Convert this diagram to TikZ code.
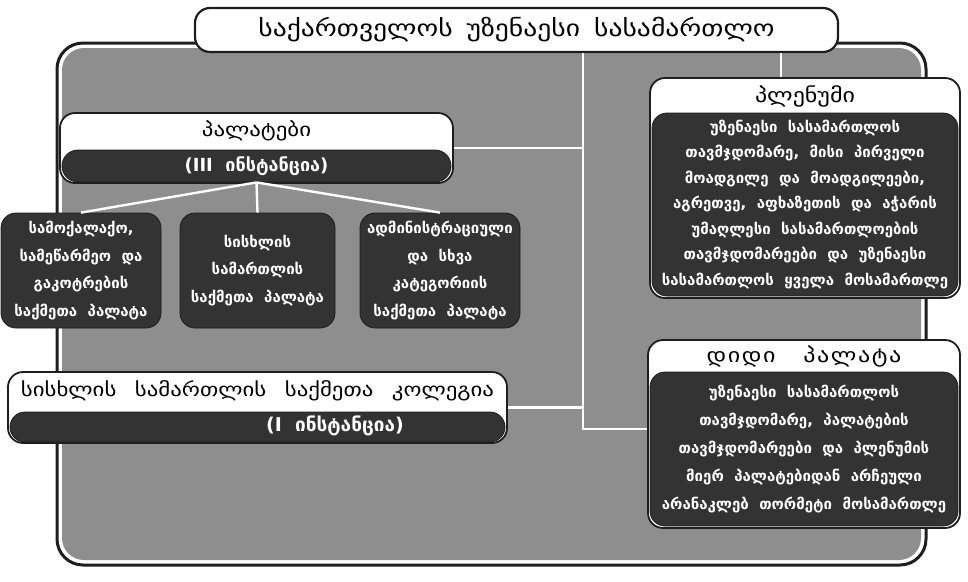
\documentclass[tikz,border=0pt]{standalone}
\usepackage{fontspec}
\setmainfont{DejaVu Sans}
\newfontfamily\geo[WordSpace=2]{DejaVu Sans}
\newfontfamily\geoh[FakeStretch=1.2, WordSpace=2.5]{DejaVu Sans}
\newfontfamily\geok[FakeStretch=1.2, WordSpace=1.6]{DejaVu Sans}
\newfontfamily\geosp[FakeStretch=1.2, WordSpace=3, LetterSpace=8]{DejaVu Sans}
\definecolor{panelgray}{HTML}{8E8E8E}
\definecolor{darkfill}{HTML}{333333}
\definecolor{edge}{HTML}{1E1E1E}
\begin{document}
\begin{tikzpicture}[x=1pt,y=-1pt,
  outerbox/.style={draw=edge, line width=1.8pt, fill=white, rounded corners=15pt, inner sep=0pt},
  darkbox/.style={fill=darkfill, draw=edge, line width=0.8pt, rounded corners=15pt, inner sep=0pt, text=white, align=center, font=\geo\bfseries\fontsize{15}{25.5}\selectfont},
  hdrtext/.style={inner sep=0pt, text=black, font=\geoh\fontsize{20}{22}\selectfont},
  conn/.style={draw=white, line width=2.4pt},
]
\useasboundingbox (0,0) rectangle (968,581);
\fill[white] (0,0) rectangle (968,581);

% outer panel
\node[draw=edge, line width=3pt, fill=white, rounded corners=26pt, minimum width=869pt, minimum height=522pt, inner sep=0pt] (panel) at (491.5,304) {};
\node[fill=panelgray, rounded corners=22pt, minimum width=859pt, minimum height=512pt, inner sep=0pt] (panelin) at (491.5,304) {};

% junction coordinates
\coordinate (j1) at (583,429);
\coordinate (j2) at (781,0);

% title
\node[outerbox, line width=2.2pt, minimum width=643pt, minimum height=44pt, font=\geoh\fontsize{23}{25}\selectfont] (title) at (516.5,30) {საქართველოს უზენაესი სასამართლო};

% plenum
\node[outerbox, minimum width=310pt, minimum height=220pt] (plen) at (805,188) {};
\node[hdrtext] (plent) at (805,96) {პლენუმი};
\node[darkbox, minimum width=306pt, minimum height=183pt] (plend) at (805,204.5) {უზენაესი სასამართლოს\\თავმჯდომარე, მისი პირველი\\მოადგილე და მოადგილეები,\\აგრეთვე, აფხაზეთის და აჭარის\\უმაღლესი სასამართლოების\\თავმჯდომარეები და უზენაესი\\სასამართლოს ყველა მოსამართლე};

% didi palata
\node[outerbox, minimum width=312pt, minimum height=188pt] (didi) at (804,434) {};
\node[inner sep=0pt, font=\geosp\fontsize{20}{22}\selectfont] (didit) at (804,357) {დიდი პალატა};
\node[darkbox, minimum width=308pt, minimum height=154pt, font=\geo\bfseries\fontsize{15}{28}\selectfont] (didid) at (804,449) {უზენაესი სასამართლოს\\თავმჯდომარე, პალატების\\თავმჯდომარეები და პლენუმის\\მიერ პალატებიდან არჩეული\\არანაკლებ თორმეტი მოსამართლე};

% palatebi
\node[outerbox, minimum width=393pt, minimum height=70pt] (pal) at (256.5,148) {};
\node[hdrtext, font=\geoh\fontsize{19}{21}\selectfont] (palt) at (256.5,131) {პალატები};
\node[darkbox, minimum width=389pt, minimum height=32pt, rounded corners=16pt, font=\geo\bfseries\fontsize{18}{20}\selectfont] (pald) at (256.5,166) {(III ინსტანცია)};

% three chambers
\node[darkbox, minimum width=160pt, minimum height=115pt, font=\geo\bfseries\fontsize{15}{27.5}\selectfont] (box1) at (81,270.5) {სამოქალაქო,\\სამეწარმეო და\\გაკოტრების\\საქმეთა პალატა};
\node[darkbox, minimum width=155pt, minimum height=115pt, font=\geo\bfseries\fontsize{15}{27.5}\selectfont] (box2) at (257.5,270.5) {სისხლის\\სამართლის\\საქმეთა პალატა};
\node[darkbox, minimum width=160pt, minimum height=115pt, font=\geo\bfseries\fontsize{15}{27.5}\selectfont] (box3) at (440,270.5) {ადმინისტრაციული\\და სხვა\\კატეგორიის\\საქმეთა პალატა};

% kolegia
\node[outerbox, minimum width=499pt, minimum height=71pt] (kol) at (257.5,407.5) {};
\node[hdrtext, font=\geok\fontsize{19}{21}\selectfont] (kolt) at (257.5,391) {სისხლის სამართლის საქმეთა კოლეგია};
\node[darkbox, minimum width=495pt, minimum height=30pt] (kold) at (257.5,427) {};
\node[inner sep=0pt, text=white, font=\geo\bfseries\fontsize{19}{20}\selectfont] (koldt) at (335,426) {(I ინსტანცია)};

% connectors
\draw[conn] (title.south -| j1) -- (j1) -- (j1 -| didi.west);
\draw[conn] (title.south -| j2) -- (plen.north -| j2);
\draw[conn] (pal.east) -- (pal.east -| j1);
\draw[conn] (kol.east) -- (kol.east -| j1);
\draw[conn] (pald.south) -- (box1.north);
\draw[conn] (pald.south) -- (box2.north);
\draw[conn] (pald.south) -- (box3.north);
\end{tikzpicture}
\end{document}
